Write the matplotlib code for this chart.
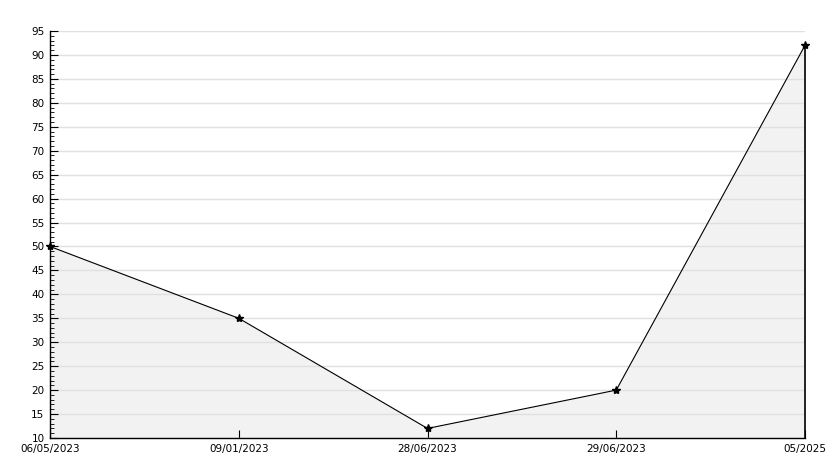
import matplotlib.pyplot as plt
from matplotlib.ticker import MultipleLocator

dates = ['06/05/2023', '09/01/2023', '28/06/2023', '29/06/2023', '05/2025']
values = [50, 35, 12, 20, 92]

fig = plt.figure(figsize=(8.34, 4.68), dpi=100)
ax = fig.add_axes([50 / 834, 30 / 468, 755 / 834, 407 / 468])

x = list(range(len(dates)))
ax.fill_between(x, values, 10, color='#f2f2f2', zorder=1)
ax.plot([x[-1], x[-1]], [10, values[-1]], color='black', lw=1.2, zorder=2,
        clip_on=False)
ax.plot(x, values, color='black', lw=0.8, marker='*', markersize=6, zorder=3,
        clip_on=False)

ax.set_xlim(0, len(dates) - 1)
ax.set_ylim(10, 95)
ax.yaxis.set_major_locator(MultipleLocator(5))
ax.yaxis.set_minor_locator(MultipleLocator(1))
ax.set_xticks(x)
ax.set_xticklabels(dates)
ax.grid(axis='y', color='#e0e0e0', lw=1, zorder=0)

ax.tick_params(axis='y', which='major', direction='in', length=6, labelsize=7.5, pad=4)
ax.tick_params(axis='y', which='minor', direction='in', length=3)
ax.tick_params(axis='x', direction='in', length=6, labelsize=7.5, pad=4)

for side in ['top', 'right']:
    ax.spines[side].set_visible(False)
for side in ['left', 'bottom']:
    ax.spines[side].set_linewidth(1)

fig.savefig('out.png', dpi=100)
